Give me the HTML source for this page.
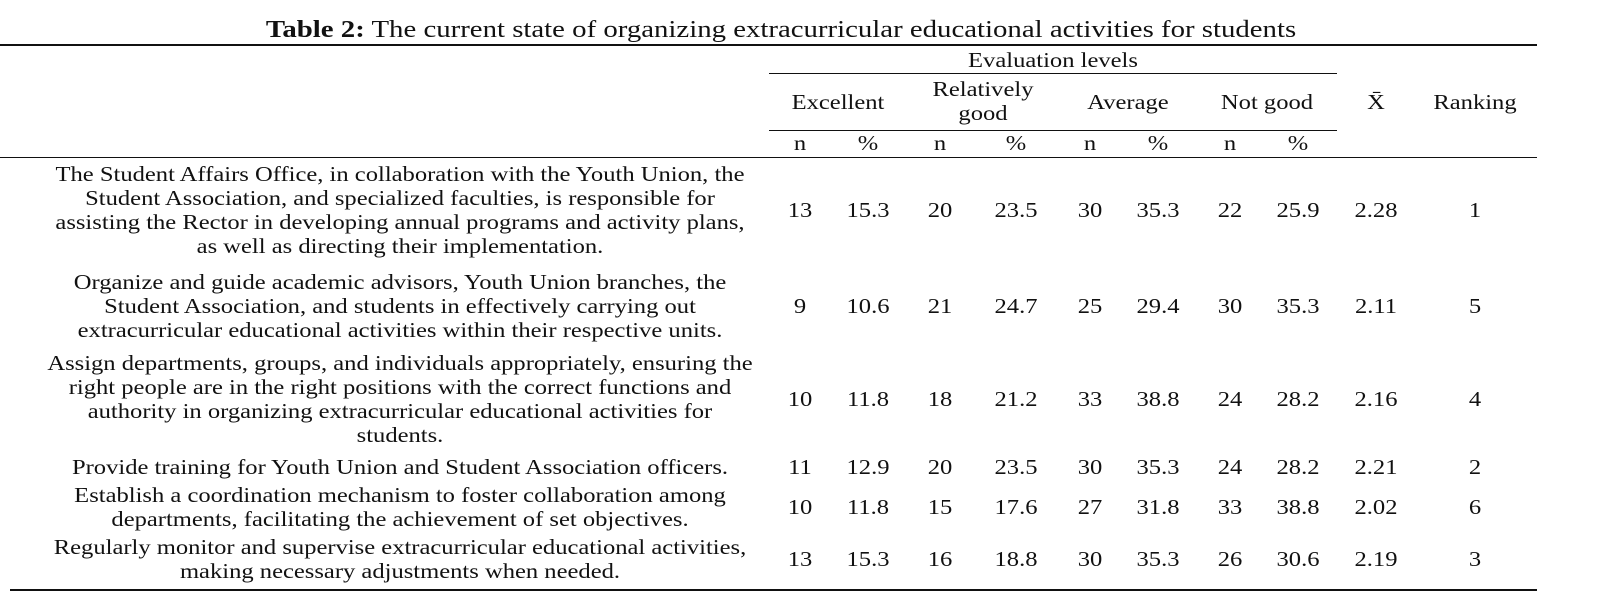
<!DOCTYPE html>
<html><head><meta charset="utf-8"><style>
body{margin:0;background:#fff;width:1599px;height:609px;overflow:hidden;position:relative;font-family:"Liberation Serif",serif;color:#111}
.t{position:absolute;white-space:nowrap;transform:translate(-50%,-50%) scaleX(1.17);font-size:21px;line-height:24px;text-align:center}
.ln{position:absolute;height:1px;background:#111}
</style></head><body>
<div class="t" style="left:781px;top:30px;font-size:24px;transform:translate(-50%,-50%) scaleX(1.2)"><b>Table 2:</b> The current state of organizing extracurricular educational activities for students</div>
<div class="ln" style="left:0;width:1537px;top:44px;height:2px"></div>
<div class="t" style="left:1053px;top:60px">Evaluation levels</div>
<div class="ln" style="left:769px;width:568px;top:73px"></div>
<div class="t" style="left:838px;top:102px">Excellent</div>
<div class="t" style="left:983px;top:101px">Relatively<br>good</div>
<div class="t" style="left:1128px;top:102px">Average</div>
<div class="t" style="left:1267px;top:102px">Not good</div>
<div class="t" style="left:1376px;top:102px">X̄</div>
<div class="t" style="left:1475px;top:102px">Ranking</div>
<div class="ln" style="left:769px;width:568px;top:130px"></div>
<div id="np"></div>
<div class="ln" style="left:0;width:1537px;top:157px"></div>
<div class="ln" style="left:10px;width:1527px;top:589px;height:2px"></div>
<div id="rows"></div>
<script>
const colX=[800,868,940,1016,1090,1158,1230,1298,1376,1475];
const descs=[
"The Student Affairs Office, in collaboration with the Youth Union, the<br>Student Association, and specialized faculties, is responsible for<br>assisting the Rector in developing annual programs and activity plans,<br>as well as directing their implementation.",
"Organize and guide academic advisors, Youth Union branches, the<br>Student Association, and students in effectively carrying out<br>extracurricular educational activities within their respective units.",
"Assign departments, groups, and individuals appropriately, ensuring the<br>right people are in the right positions with the correct functions and<br>authority in organizing extracurricular educational activities for<br>students.",
"Provide training for Youth Union and Student Association officers.",
"Establish a coordination mechanism to foster collaboration among<br>departments, facilitating the achievement of set objectives.",
"Regularly monitor and supervise extracurricular educational activities,<br>making necessary adjustments when needed."];
const values=[
["13","15.3","20","23.5","30","35.3","22","25.9","2.28","1"],
["9","10.6","21","24.7","25","29.4","30","35.3","2.11","5"],
["10","11.8","18","21.2","33","38.8","24","28.2","2.16","4"],
["11","12.9","20","23.5","30","35.3","24","28.2","2.21","2"],
["10","11.8","15","17.6","27","31.8","33","38.8","2.02","6"],
["13","15.3","16","18.8","30","35.3","26","30.6","2.19","3"]];
const rowY=[210,306,399,467,507,559];
const np=document.getElementById('np');
for(let i=0;i<8;i++){const d=document.createElement('div');d.className='t';


d.style.left=colX[i]+'px';d.style.top='143px';d.textContent=i%2?'%':'n';np.appendChild(d);}
const rows=document.getElementById('rows');
descs.forEach((t,r)=>{const d=document.createElement('div');d.className='t';


d.style.left='400px';d.style.top=rowY[r]+'px';d.innerHTML=t;rows.appendChild(d);
values[r].forEach((v,c)=>{const e=document.createElement('div');e.className='t';


e.style.left=colX[c]+'px';e.style.top=rowY[r]+'px';e.textContent=v;rows.appendChild(e);});});
</script>
</body></html>
